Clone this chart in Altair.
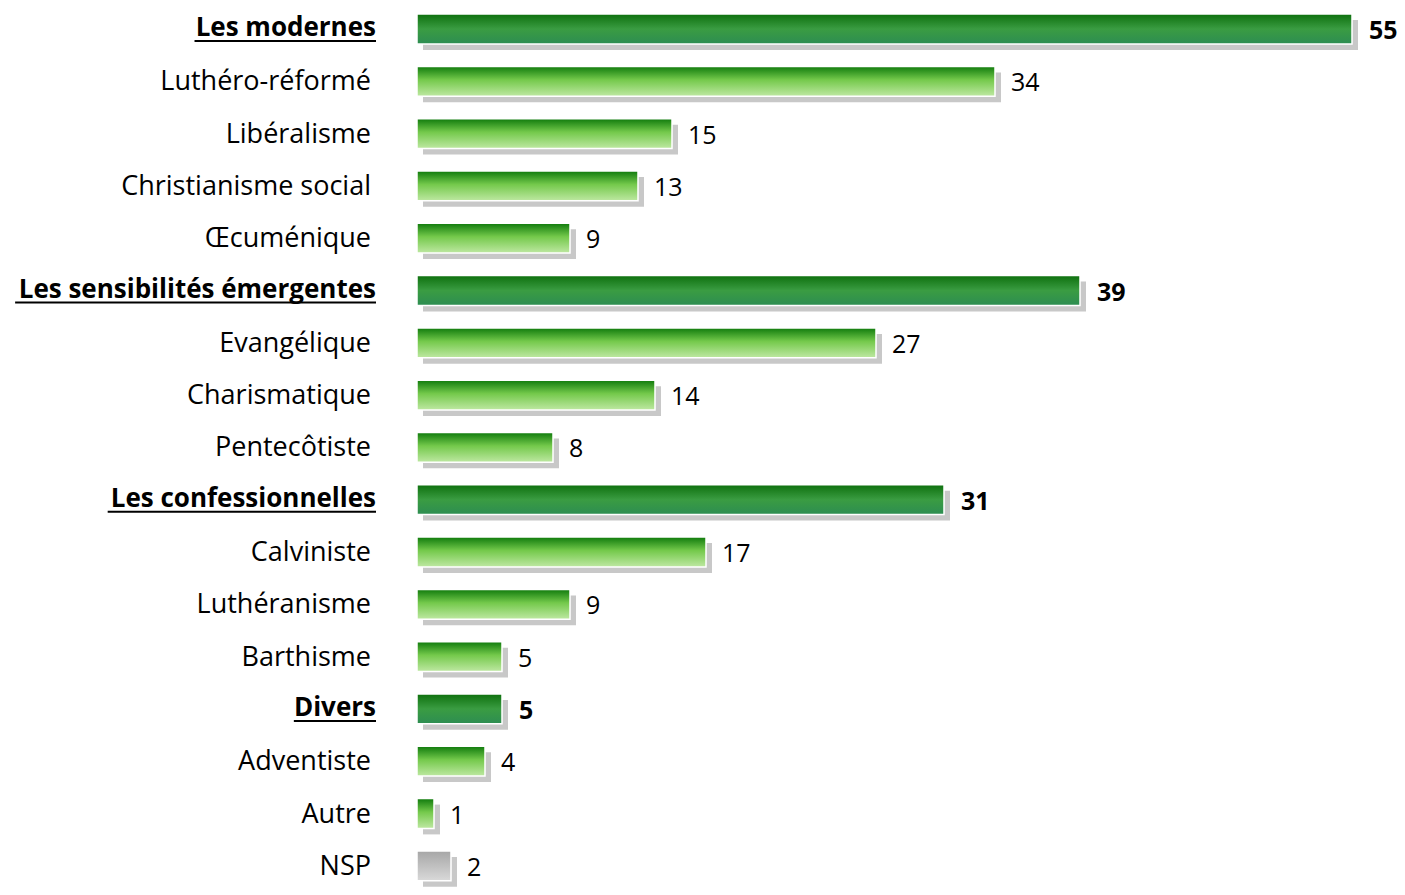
import altair as alt
import pandas as pd

labels = ["Les modernes", "Luthéro-réformé", "Libéralisme", "Christianisme social", "Œcuménique",
          "Les sensibilités émergentes", "Evangélique", "Charismatique", "Pentecôtiste",
          "Les confessionnelles", "Calviniste", "Luthéranisme", "Barthisme",
          "Divers", "Adventiste", "Autre", "NSP"]
values = [55, 34, 15, 13, 9, 39, 27, 14, 8, 31, 17, 9, 5, 5, 4, 1, 2]
kinds = ["group", "sub", "sub", "sub", "sub",
         "group", "sub", "sub", "sub",
         "group", "sub", "sub", "sub",
         "group", "sub", "sub", "nsp"]

FONT = "Open Sans"
FS = 27
FSB = 26

# approximate Open Sans Bold advance widths (em) for underline length
BOLD_W = {"a": .60, "b": .64, "c": .52, "d": .64, "e": .60, "é": .60, "f": .40, "g": .57,
          "h": .66, "i": .31, "l": .31, "m": .98, "n": .66, "o": .62, "r": .45, "s": .51,
          "t": .43, "u": .66, "v": .58, " ": .26, "L": .55, "D": .71}

def est_width(s, fs):
    return sum(BOLD_W.get(ch, .6) for ch in s) * fs

LABEL_X = 368
df = pd.DataFrame({"label": labels, "value": values, "kind": kinds})
df["ux"] = [LABEL_X - est_width(l, FSB) if k == "group" else LABEL_X for l, k in zip(labels, kinds)]
df["ux2"] = LABEL_X

n = len(labels)
step = 52.3
r0 = 21 - step / 2
yscale = alt.Scale(domain=labels, range=[r0, r0 + n * step],
                   paddingInner=0.43, paddingOuter=0.215)
y = alt.Y("label:N", sort=labels, scale=yscale, axis=None)
xscale = alt.Scale(domain=[0, 55], range=[409, 1344])
x = alt.X("value:Q", scale=xscale, axis=None)

base = alt.Chart(df)

grad_light = alt.Gradient(gradient="linear", x1=0, y1=0, x2=0, y2=1, stops=[
    alt.GradientStop(offset=0, color="#0f7a0c"),
    alt.GradientStop(offset=0.45, color="#74c94b"),
    alt.GradientStop(offset=1, color="#bee8a2")])
grad_dark = alt.Gradient(gradient="linear", x1=0, y1=0, x2=0, y2=1, stops=[
    alt.GradientStop(offset=0, color="#0e700e"),
    alt.GradientStop(offset=0.5, color="#3a9c42"),
    alt.GradientStop(offset=1, color="#2d8d52")])
grad_gray = alt.Gradient(gradient="linear", x1=0, y1=0, x2=0, y2=1, stops=[
    alt.GradientStop(offset=0, color="#a6a6a6"),
    alt.GradientStop(offset=1, color="#d9d9d9")])

shadow = base.mark_bar(color="#c8c8c8", xOffset=6, yOffset=6).encode(x=x, y=y)

def bars(kind, grad):
    return base.transform_filter(alt.datum.kind == kind).mark_bar(
        color=grad, stroke="white", strokeWidth=1.5).encode(x=x, y=y)

lab_norm = base.transform_filter(alt.datum.kind != "group").mark_text(
    align="right", baseline="middle", font=FONT, fontSize=FS, color="black", dy=1
).encode(x=alt.value(LABEL_X - 5), y=y, text="label:N")
lab_bold = base.transform_filter(alt.datum.kind == "group").mark_text(
    align="right", baseline="middle", font=FONT, fontSize=FSB, fontWeight="bold", color="black", dy=-1
).encode(x=alt.value(LABEL_X), y=y, text="label:N")
underline = base.transform_filter(alt.datum.kind == "group").mark_rule(
    color="black", strokeWidth=2, yOffset=12
).encode(x=alt.X("ux:Q", scale=None), x2="ux2:Q", y=y)

val_norm = base.transform_filter(alt.datum.kind != "group").mark_text(
    align="left", baseline="middle", font=FONT, fontSize=FS - 2, color="black", dx=16, dy=2
).encode(x=x, y=y, text="value:Q")
val_bold = base.transform_filter(alt.datum.kind == "group").mark_text(
    align="left", baseline="middle", font=FONT, fontSize=FSB - 1, fontWeight="bold", color="black", dx=17, dy=2
).encode(x=x, y=y, text="value:Q")

chart = alt.layer(
    shadow, bars("sub", grad_light), bars("group", grad_dark), bars("nsp", grad_gray),
    lab_norm, lab_bold, underline, val_norm, val_bold
).properties(width=1389, height=879, padding=0, autosize="none").configure_view(stroke=None)

chart.save("out.html", embed_options={"renderer": "svg", "actions": False})
